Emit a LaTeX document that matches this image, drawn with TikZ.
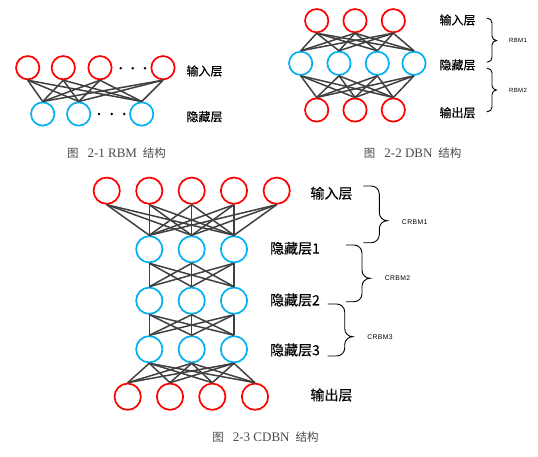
\documentclass[tikz,border=0pt]{standalone}
\usepackage{fontspec}
\newfontfamily\cjk[FakeBold=0.3]{Noto Sans CJK SC}
\newfontfamily\cjkc{Noto Sans CJK SC}
\newfontfamily\capfont{Liberation Serif}
\newfontfamily\smallsans[LetterSpace=6]{Liberation Sans}
\definecolor{nred}{HTML}{FF0000}
\definecolor{nblue}{HTML}{00B0F0}
\definecolor{edgec}{HTML}{404040}
\definecolor{capc}{HTML}{4A4A4A}
\newcommand\mybrace[6]{%
 \pgfmathsetmacro\bA{#1+#5}%
 \pgfmathsetmacro\bV{#1+#5+#6}%
 \pgfmathsetmacro\bT{#1+#5+2*#6}%
 \draw[bracestyle] (#1,#2) -- (\bA,#2) .. controls ({\bA+0.55*#6},#2) and (\bV,{#2+0.45*#6}) .. (\bV,{#2+#6}) -- (\bV,{#4-#6}) .. controls (\bV,{#4-0.45*#6}) and ({\bV+0.45*#6},#4) .. (\bT,#4) .. controls ({\bV+0.45*#6},#4) and (\bV,{#4+0.45*#6}) .. (\bV,{#4+#6}) -- (\bV,{#3-#6}) .. controls (\bV,{#3-0.45*#6}) and ({\bA+0.55*#6},#3) .. (\bA,#3) -- (#1,#3);}
\newcommand\figcap[1]{{\cjkc\fontsize{11.5}{12}\selectfont 图}\hspace{9pt}{\capfont\fontsize{13}{13}\selectfont #1}\hspace{6pt}{\cjkc\fontsize{11.5}{12}\selectfont 结构}}
\begin{document}
\begin{tikzpicture}[x=1pt,y=-1pt,
 rs/.style={circle,draw=nred,line width=1.7pt,minimum size=23.3pt,inner sep=0pt},
 bs/.style={circle,draw=nblue,line width=1.7pt,minimum size=23.3pt,inner sep=0pt},
 rl/.style={rs,minimum size=26.3pt},
 bl/.style={bs,minimum size=26.3pt},
 edge/.style={draw=edgec,line width=1.5pt},
 dotn/.style={circle,fill=black,inner sep=0pt,minimum size=2.8pt},
 lab/.style={font=\cjk\fontsize{12}{12}\selectfont,inner sep=0pt},
 labl/.style={font=\cjk\fontsize{14}{14}\selectfont,inner sep=0pt},
 capt/.style={text=capc,inner sep=0pt},
 rbml/.style={font=\smallsans\fontsize{6}{6}\selectfont,inner sep=0pt},
 crbml/.style={font=\smallsans\fontsize{6.8}{6.8}\selectfont,inner sep=0pt},
 bracestyle/.style={draw=black,line width=0.9pt}]
\useasboundingbox (0,0) rectangle (538,457);
% ---------- Fig 2-1 RBM ----------
\node[rs] (a1) at (27.7,67.7) {};
\node[rs] (a2) at (63.3,67.7) {};
\node[rs] (a3) at (100,67.7) {};
\node[rs] (a4) at (163,67.7) {};
\node[bs] (b1) at (42.7,114) {};
\node[bs] (b2) at (78.7,114) {};
\node[bs] (b3) at (141.7,114) {};
\foreach \i in {1,...,4}{\foreach \j in {1,2,3}{\draw[edge] (a\i.south) -- (b\j.north);}}
\node[dotn] (ad1) at (120.7,68.3) {};
\node[dotn] (ad2) at (132.7,68.3) {};
\node[dotn] (ad3) at (145,68.3) {};
\node[dotn] (bd1) at (99,114) {};
\node[dotn] (bd2) at (111.7,114) {};
\node[dotn] (bd3) at (124.3,114) {};
\node[lab] (l1a) at (204.5,71) {输入层};
\node[lab] (l1b) at (204.5,116.7) {隐藏层};
\node[capt] (c1) at (116.5,152.7) {\figcap{2-1 RBM}};
% ---------- Fig 2-2 DBN ----------
\node[rs] (t1) at (316.7,20.7) {};
\node[rs] (t2) at (355,20.7) {};
\node[rs] (t3) at (393.3,20.7) {};
\node[bs] (h1) at (300.7,63.3) {};
\node[bs] (h2) at (339,63.3) {};
\node[bs] (h3) at (377.3,63.3) {};
\node[bs] (h4) at (414,63.3) {};
\node[rs] (o1) at (316.7,110) {};
\node[rs] (o2) at (355,110) {};
\node[rs] (o3) at (393.3,110) {};
\foreach \i in {1,2,3}{\foreach \j in {1,...,4}{\draw[edge] (t\i.south) -- (h\j.north); \draw[edge] (h\j.south) -- (o\i.north);}}
\node[lab] (l2a) at (457.5,20) {输入层};
\node[lab] (l2b) at (457.5,65) {隐藏层};
\node[lab] (l2c) at (457.5,112.7) {输出层};
\mybrace{486.7}{18.3}{62}{40.5}{0.8}{4.5}
\mybrace{486.7}{68.3}{111.7}{90}{0.8}{4.5}
\node[rbml] (r1) at (518,40.7) {RBM1};
\node[rbml] (r2) at (518,90.7) {RBM2};
\node[capt] (c2) at (412.7,153.3) {\figcap{2-2 DBN}};
% ---------- Fig 2-3 CDBN ----------
\foreach \k/\x in {1/106.7,2/149.3,3/191.7,4/234,5/276.7}{\node[rl] (v\k) at (\x,190.7) {};}
\foreach \k/\x in {1/149.3,2/191.7,3/234}{
  \node[bl] (p\k) at (\x,249.3) {};
  \node[bl] (q\k) at (\x,300.7) {};
  \node[bl] (s\k) at (\x,349.3) {};}
\foreach \k/\x in {1/127.7,2/170,3/212.3,4/255}{\node[rl] (y\k) at (\x,396.7) {};}
\foreach \i in {1,...,5}{\foreach \j in {1,2,3}{\draw[edge] (v\i.south) -- (p\j.north);}}
\foreach \i in {1,2,3}{\foreach \j in {1,2,3}{\draw[edge] (p\i.south) -- (q\j.north); \draw[edge] (q\i.south) -- (s\j.north);}}
\foreach \i in {1,2,3}{\foreach \j in {1,...,4}{\draw[edge] (s\i.south) -- (y\j.north);}}
\node[labl] (l3a) at (331.5,193.3) {输入层};
\node[labl] (l3b) at (295,248.3) {隐藏层1};
\node[labl] (l3c) at (295,300) {隐藏层2};
\node[labl] (l3d) at (295,350) {隐藏层3};
\node[labl] (l3e) at (331.5,395) {输出层};
\mybrace{363.3}{186}{242.7}{220.7}{8}{8}
\mybrace{346}{245}{301.7}{278.3}{8}{8}
\mybrace{327.7}{304}{356}{336.7}{9}{8}
\node[crbml] (k1) at (414.7,221.7) {CRBM1};
\node[crbml] (k2) at (397.5,278.3) {CRBM2};
\node[crbml] (k3) at (380,336.7) {CRBM3};
\node[capt] (c3) at (265.5,437) {\figcap{2-3 CDBN}};
\end{tikzpicture}
\end{document}
